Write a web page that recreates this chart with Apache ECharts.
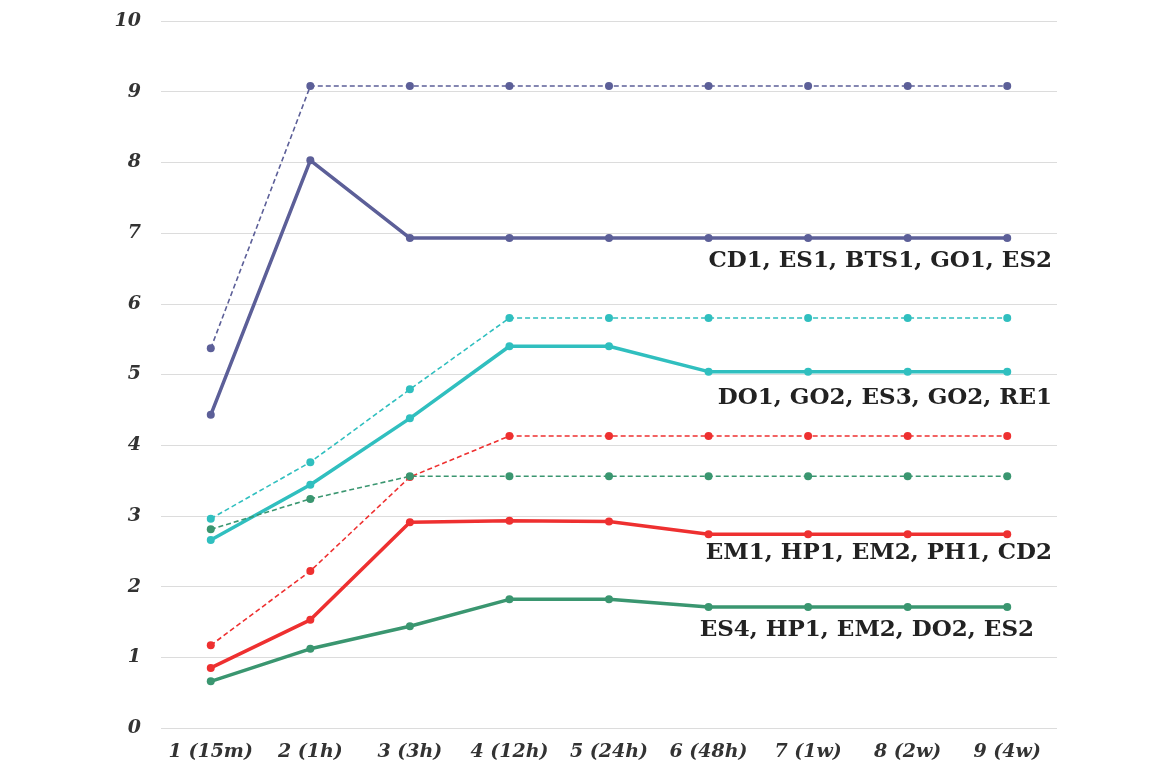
<!DOCTYPE html>
<html><head><meta charset="utf-8">
<script src="https://cdn.jsdelivr.net/npm/echarts@6/dist/echarts.min.js"></script>
<style>html,body{margin:0;padding:0;background:#fff}#c{width:1164px;height:770px}</style>
</head><body><div id="c"></div>
<script>
const categories = ['1 (15m)','2 (1h)','3 (3h)','4 (12h)','5 (24h)','6 (48h)','7 (1w)','8 (2w)','9 (4w)'];
const purpleDashed = [5.37, 9.08, 9.08, 9.08, 9.08, 9.08, 9.08, 9.08, 9.08];
const purpleSolid  = [4.43, 8.03, 6.93, 6.93, 6.93, 6.93, 6.93, 6.93, 6.93];
const cyanDashed   = [2.96, 3.76, 4.79, 5.80, 5.80, 5.80, 5.80, 5.80, 5.80];
const cyanSolid    = [2.66, 3.44, 4.38, 5.40, 5.40, 5.04, 5.04, 5.04, 5.04];
const redDashed    = [1.17, 2.22, 3.55, 4.13, 4.13, 4.13, 4.13, 4.13, 4.13];
const greenDashed  = [2.81, 3.24, 3.56, 3.56, 3.56, 3.56, 3.56, 3.56, 3.56];
const redSolid     = [0.85, 1.53, 2.91, 2.93, 2.92, 2.74, 2.74, 2.74, 2.74];
const greenSolid   = [0.66, 1.12, 1.44, 1.82, 1.82, 1.71, 1.71, 1.71, 1.71];
const groupLabels = ['CD1, ES1, BTS1, GO1, ES2','DO1, GO2, ES3, GO2, RE1','EM1, HP1, EM2, PH1, CD2','ES4, HP1, EM2, DO2, ES2'];

const PURPLE='#5c5f98', CYAN='#30bfbf', RED='#ee3030', GREEN='#3a9670';
function ser(data,color,dashed){
  return {type:'line',data:data,symbol:'circle',symbolSize:8,
    lineStyle:{color:color,width:dashed?1.6:3.5,type:dashed?[5,3]:'solid'},
    itemStyle:{color:color},emphasis:{disabled:true},animation:false};
}
const chart = echarts.init(document.getElementById('c'));
const lblFont = 'bold 23px "DejaVu Serif", serif';
chart.setOption({
  animation:false,
  grid:{left:161,right:107,top:21,bottom:42},
  xAxis:{type:'category',data:categories,boundaryGap:true,
    axisLine:{show:false},axisTick:{show:false},
    axisLabel:{interval:0,margin:15,color:'#333',fontSize:19,fontWeight:'bold',fontStyle:'italic',fontFamily:'"DejaVu Serif", serif'}},
  yAxis:{type:'value',min:0,max:10,interval:1,
    axisLine:{show:false},axisTick:{show:false},
    splitLine:{lineStyle:{color:'#dcdcdc',width:1}},
    axisLabel:{margin:20,color:'#333',fontSize:19,fontWeight:'bold',fontStyle:'italic',fontFamily:'"DejaVu Serif", serif'}},
  series:[
    ser(purpleDashed,PURPLE,true), ser(purpleSolid,PURPLE,false),
    ser(cyanDashed,CYAN,true), ser(cyanSolid,CYAN,false),
    ser(redDashed,RED,true), ser(greenDashed,GREEN,true),
    ser(redSolid,RED,false), ser(greenSolid,GREEN,false)
  ],
  graphic:[
    {type:'text',right:112,top:250,style:{text:groupLabels[0],font:lblFont,fill:'#222'}},
    {type:'text',right:112,top:387,style:{text:groupLabels[1],font:lblFont,fill:'#222'}},
    {type:'text',right:112,top:542,style:{text:groupLabels[2],font:lblFont,fill:'#222'}},
    {type:'text',right:130,top:619,style:{text:groupLabels[3],font:lblFont,fill:'#222'}}
  ]
});
</script></body></html>
